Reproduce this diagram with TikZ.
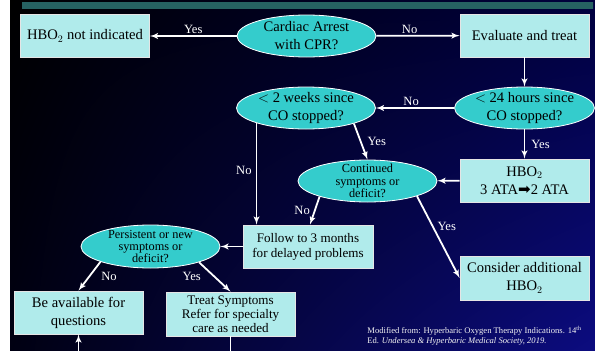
\documentclass[tikz,border=0pt]{standalone}
\usepackage{fontspec}
\setmainfont{Liberation Serif}
\newfontfamily\arrowfont{DejaVu Sans}
\usepackage{tikz}
\usepackage{color}
\usetikzlibrary{arrows,shapes.geometric,shadings}

\definecolor{boxcyan}{RGB}{176,235,235}
\definecolor{qteal}{RGB}{52,204,204}
\definecolor{bardark}{RGB}{38,98,98}
\definecolor{barlight}{RGB}{150,205,205}
\definecolor{bgul}{RGB}{0,0,0}
\definecolor{bgll}{RGB}{0,0,18}
\definecolor{bgur}{RGB}{0,0,62}
\definecolor{bglr}{RGB}{12,12,128}

\begin{document}
\begin{tikzpicture}[x=1pt,y=-1pt,thick]
      \tikzstyle{every node} = [inner sep = 2pt];
      \tikzstyle{box} = [draw=white!80!gray, line width=0.8pt, fill=boxcyan, rectangle,
        minimum width=129pt, minimum height=43pt, inner sep=1pt, align=center, text=black,
        font=\fontsize{14.6}{18}\selectfont];
      \tikzstyle{question} = [draw=white, line width=0.8pt, fill=qteal, ellipse,
        minimum width=139pt, minimum height=42pt, inner xsep=0pt, inner ysep=-8pt,
        align=center, text=black, font=\fontsize{14.6}{18}\selectfont];
      \tikzstyle{smallq} = [question, font=\fontsize{12.3}{12.3}\selectfont];
      \tikzstyle{lbl} = [text=white, inner sep=1pt, font=\fontsize{12.6}{14}\selectfont];
      \tikzstyle{flow} = [->, >=latex', white, line width=1.8pt];
      \useasboundingbox (0,0) rectangle (595,351);
      \clip (0,0) rectangle (595,351);
      % background and title bar
      \shade[upper left=bgul, lower left=bgll, upper right=bgur, lower right=bglr]
        (10,0) rectangle (595,351);
      \shade[left color=bardark, middle color=barlight, right color=bardark]
        (22,2) rectangle (593,8);
      \begin{scope}
        % first row
        \node(cardiac) [question] at (306.5,36) {Cardiac Arrest\\with CPR?};
        \node(notind) [box] at (85,36) {HBO$_2$ not indicated};
        \node(evaluate) [box] at (524.5,35.5) {Evaluate and treat};
        % second row
        \node(hours) [question] at (524.5,108) {$<$ 24 hours since\\CO stopped?};
        \node(weeks) [question] at (306,108) {$<$ 2 weeks since\\CO stopped?};
        % third row
        \node(hbo) [box] at (524.5,180.5) {HBO$_2$\\3 ATA{\arrowfont\fontsize{15}{15}\selectfont ➡}2 ATA};
        \node(continued) [smallq] at (367.5,181) {Continued\\symptoms or\\deficit?};
        \node(follow) [box, font=\fontsize{13.1}{15}\selectfont, minimum width=130pt] at (308,246.5)
          {Follow to 3 months\\for delayed problems};
        \node(consider) [box, minimum height=44pt] at (524.5,278) {Consider additional\\HBO$_2$};
        \node(persistent) [smallq, minimum height=43pt] at (150.5,246.5) {Persistent or new\\symptoms or\\deficit?};
        \node(available) [box] at (78.5,312.5) {Be available for\\questions};
        \node(treat) [box, minimum height=44pt, font=\fontsize{13.1}{14}\selectfont] at (230.5,314)
          {Treat Symptoms\\Refer for specialty\\care as needed};
        \node(source) [anchor=west, align=left, text=white!90!gray, inner sep=0pt,
          font=\fontsize{8.6}{9.4}\selectfont] at (367,335.5)
          {Modified from: Hyperbaric Oxygen Therapy Indications. 14\textsuperscript{th}\\
           Ed. \textit{Undersea \& Hyperbaric Medical Society, 2019.}};
      \end{scope}
      % connectors
      \path[flow] (cardiac) edge node[lbl, above] (yes1) {Yes} (notind);
      \path[flow] (cardiac) edge node[lbl, above, pos=0.4] (no1) {No} (evaluate);
      \path[flow] (evaluate) edge (hours);
      \path[flow] (hours) edge node[lbl, above, pos=0.55] (no2) {No} (weeks);
      \path[flow] (hours) edge node[lbl, right=5pt] (yes2) {Yes} (hbo);
      \path[flow] (weeks.-18) edge node[lbl, right=5pt] (yes3) {Yes} (continued.north);
      \path[flow] (weeks.-163) edge node[lbl, left=3pt, pos=0.47] (no3) {No} (weeks.-163 |- follow.north);
      \path[flow] (hbo) edge (continued);
      \path[flow] (continued.-162) edge node[lbl, left=3pt] (no4) {No} ([xshift=2pt]follow.north);
      \path[flow] (continued.-17) edge node[lbl, right=3pt, pos=0.37] (yes4) {Yes} (consider.west);
      \path[flow] (follow) edge (persistent);
      \path[flow] (persistent.-163) edge node[lbl, right=10pt] (no5) {No} (available.north);
      \path[flow] (persistent.-18) edge node[lbl, left=12pt] (yes5) {Yes} (treat.north);
      \draw[flow] (treat.south) -- ++(0,30) -| (available.south);
    \end{tikzpicture}
\end{document}
